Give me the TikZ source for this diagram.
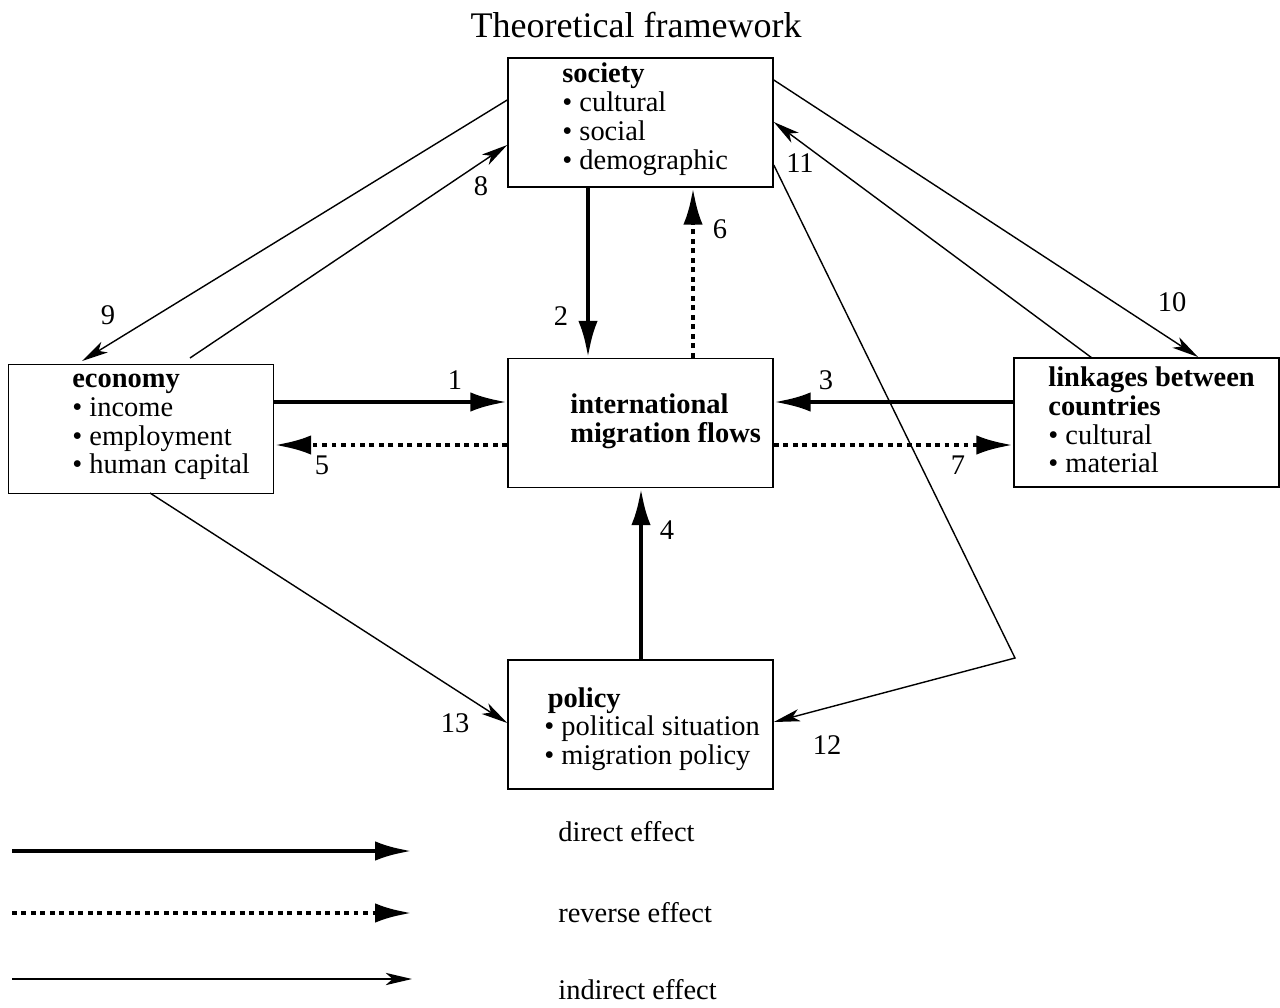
\documentclass[tikz,border=0pt]{standalone}
\usepackage{fontspec}
\setmainfont{Liberation Serif}
\usetikzlibrary{arrows.meta,calc}
\begin{document}
\begin{tikzpicture}[x=0.02cm,y=-0.02cm,
  box/.style={draw,line width=0.9pt,minimum width=5.3cm,minimum height=2.58cm,inner sep=0pt},
  txt/.style={anchor=west,align=left,inner sep=0pt,font=\fontsize{16.2}{16.4}\selectfont},
  lbl/.style={inner sep=0pt,font=\fontsize{16.2}{16.4}\selectfont},
  direct/.style={line width=2.8pt,-{Latex[length=21pt,width=11pt]}},
  reverse/.style={line width=2.8pt,dash pattern=on 2.8pt off 2.6pt,-{Latex[length=21pt,width=11pt]}},
  indirect/.style={line width=0.8pt,-{Stealth[length=15pt,width=7pt,inset=4pt]}}]
\useasboundingbox (0,0) rectangle (1280,1007);

\node[lbl,font=\fontsize{20.5}{21}\selectfont] (title) at (636,25) {Theoretical framework};

% boxes
\node[box] (soc) at (640.5,122.5) {};
\node[box] (mig) at (640.5,423) {};
\node[box] (eco) at (141,429) {};
\node[box] (lnk) at (1146.5,422.5) {};
\node[box] (pol) at (640.5,724.5) {};

% texts
\node[txt] (soct) at (562,119) {\textbf{society}\\\textbullet\ cultural\\\textbullet\ social\\\textbullet\ demographic};
\node[txt] (migt) at (570,421) {\textbf{international}\\\textbf{migration flows}};
\node[txt] (ecot) at (72,427) {\textbf{economy}\\\textbullet\ income\\\textbullet\ employment\\\textbullet\ human capital};
\node[txt] (lnkt) at (1048,420) {\textbf{linkages between}\\\textbf{countries}\\\textbullet\ cultural\\\textbullet\ material};
\node[txt] (polt) at (544,729) {\hspace{2pt}\textbf{policy}\\\textbullet\ political situation\\\textbullet\ migration policy};

% direct / reverse effects
\draw[direct] (eco.east |- 0,402) -- (mig.west |- 0,402);
\draw[reverse] (mig.west |- 0,445) -- (eco.east |- 0,445);
\draw[direct] (lnk.west |- 0,402) -- (mig.east |- 0,402);
\draw[reverse] (mig.east |- 0,445) -- (lnk.west |- 0,445);
\draw[direct] (soc.south -| 588,0) -- (mig.north -| 588,0);
\draw[reverse] (mig.north -| 693,0) -- (soc.south -| 693,0);
\draw[direct] (pol.north -| 641,0) -- (mig.south -| 641,0);

% indirect effects
\draw[indirect] (soc.west |- 0,100) -- (82,361);
\coordinate (e8) at (190,358);
\draw[indirect] (e8) -- (soc.west |- 0,145);
\draw[indirect] (soc.east |- 0,80) -- (1198,357);
\coordinate (l11) at (1092,358);
\draw[indirect] (l11) -- (soc.east |- 0,122);
\coordinate (bend) at (1015,658);
\draw[indirect] (soc.east |- 0,165) -- (bend) -- (pol.east |- 0,722);
\coordinate (e13) at (150,493);
\draw[indirect] (e13) -- (pol.west |- 0,723);

% labels
\node[lbl] (n1) at (455,380) {1};
\node[lbl] (n2) at (561,316) {2};
\node[lbl] (n3) at (826,380) {3};
\node[lbl] (n4) at (667,530) {4};
\node[lbl] (n5) at (322,465) {5};
\node[lbl] (n6) at (720,229) {6};
\node[lbl] (n7) at (958,465) {7};
\node[lbl] (n8) at (481,186) {8};
\node[lbl] (n9) at (108,315) {9};
\node[lbl] (n10) at (1172,302) {10};
\node[lbl] (n11) at (800,163) {11};
\node[lbl] (n12) at (827,745) {12};
\node[lbl] (n13) at (455,723) {13};

% legend
\coordinate (ld1) at (12,851); \coordinate (ld2) at (412,851);
\coordinate (lr1) at (12,913); \coordinate (lr2) at (412,913);
\coordinate (li1) at (12,979); \coordinate (li2) at (412,979);
\draw[direct] (ld1) -- (ld2);
\draw[reverse] (lr1) -- (lr2);
\draw[indirect] (li1) -- (li2);
\node[txt] (tdir) at (558,832) {direct effect};
\node[txt] (trev) at (558,913) {reverse effect};
\node[txt] (tind) at (558,990) {indirect effect};
\end{tikzpicture}
\end{document}
